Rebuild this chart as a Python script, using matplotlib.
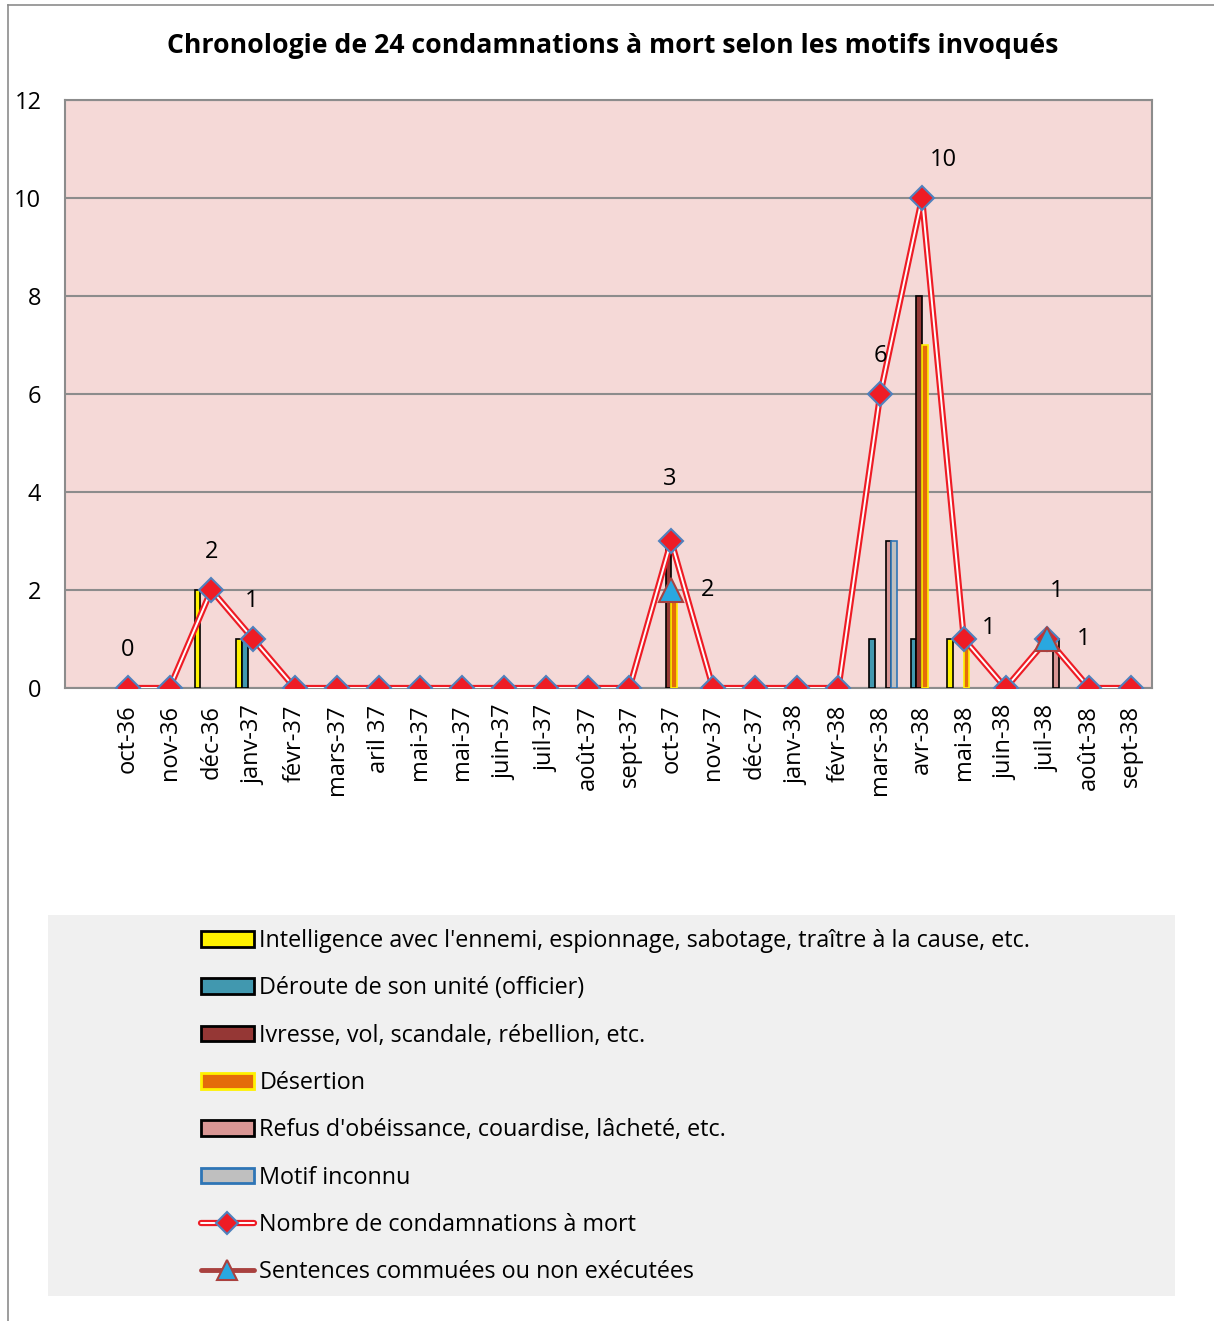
"""Chronologie des condamnations a mort"""

import numpy as np
import matplotlib.pyplot as plt
from matplotlib.patches import Rectangle, Patch
from matplotlib.lines import Line2D
from matplotlib.legend_handler import HandlerTuple

plt.rcParams['font.family'] = ['Open Sans', 'DejaVu Sans']

months = ['oct-36', 'nov-36', 'déc-36', 'janv-37', 'févr-37', 'mars-37', 'aril 37',
          'mai-37', 'mai-37', 'juin-37', 'juil-37', 'août-37', 'sept-37', 'oct-37',
          'nov-37', 'déc-37', 'janv-38', 'févr-38', 'mars-38', 'avr-38', 'mai-38',
          'juin-38', 'juil-38', 'août-38', 'sept-38']

intelligence = [0, 0, 2, 1, 0, 0, 0, 0, 0, 0, 0, 0, 0, 0, 0, 0, 0, 0, 0, 0, 1, 0, 0, 0, 0]
deroute      = [0, 0, 0, 1, 0, 0, 0, 0, 0, 0, 0, 0, 0, 0, 0, 0, 0, 0, 1, 1, 0, 0, 0, 0, 0]
ivresse      = [0, 0, 0, 0, 0, 0, 0, 0, 0, 0, 0, 0, 0, 3, 0, 0, 0, 0, 0, 8, 0, 0, 0, 0, 0]
desertion    = [0, 0, 0, 0, 0, 0, 0, 0, 0, 0, 0, 0, 0, 2, 0, 0, 0, 0, 0, 7, 1, 0, 0, 0, 0]
refus        = [0, 0, 0, 0, 0, 0, 0, 0, 0, 0, 0, 0, 0, 0, 0, 0, 0, 0, 3, 0, 0, 0, 1, 0, 0]
inconnu      = [0, 0, 0, 0, 0, 0, 0, 0, 0, 0, 0, 0, 0, 0, 0, 0, 0, 0, 3, 0, 0, 0, 0, 0, 0]

total = [0, 0, 2, 1, 0, 0, 0, 0, 0, 0, 0, 0, 0, 3, 0, 0, 0, 0, 6, 10, 1, 0, 1, 0, 0]
nan = np.nan
commuees = [nan] * 13 + [2] + [nan] * 8 + [1] + [nan] * 2

# which points of the total line carry a value label
total_labels = [0, 2, 3, 13, 18, 19, 20, 22]
commuee_labels = [13, 22]

series = [
    ("Intelligence avec l'ennemi, espionnage, sabotage, traître à la cause, etc.",
     intelligence, '#FFF200', 'black'),
    ('Déroute de son unité (officier)', deroute, '#4198AF', 'black'),
    ('Ivresse, vol, scandale, rébellion, etc.', ivresse, '#953735', 'black'),
    ('Désertion', desertion, '#E46C0A', '#FFF200'),
    ("Refus d'obéissance, couardise, lâcheté, etc.", refus, '#D99694', 'black'),
    ('Motif inconnu', inconnu, '#BFBFBF', '#2E75B6'),
]

fig = plt.figure(figsize=(12.14, 13.21), dpi=100)
ax = fig.add_axes([65 / 1214, 1 - 688 / 1321, (1152 - 65) / 1214, (688 - 100) / 1321])
ax.set_facecolor('#F5D9D7')

x = np.arange(len(months))
w = 0.134
handles = []
for i, (name, vals, color, edge) in enumerate(series):
    v = np.array(vals, dtype=float)
    mask = v > 0
    ax.bar(x[mask] + (i - 2.5) * w, v[mask], width=w, color=color,
           edgecolor=edge, linewidth=1.2, zorder=3)
    handles.append(Patch(facecolor=color, edgecolor=edge, linewidth=2))

# total line: red double line with diamonds
ax.plot(x, total, color='#EE1C25', linewidth=4.5, zorder=4)
ax.plot(x, total, color='white', linewidth=1.4, zorder=5)
ax.plot(x, total, linestyle='none', marker='D', markersize=12,
        markerfacecolor='#EE1C25', markeredgecolor='#4F81BD',
        markeredgewidth=1.5, zorder=6)

# commuted sentences
ax.plot(x, commuees, color='#A9413F', linewidth=3, marker='^', markersize=17,
        markerfacecolor='#29A8E0', markeredgecolor='#A9413F',
        markeredgewidth=1.5, zorder=7)

offsets = {0: (0, 38), 2: (0, 38), 3: (-2, 38), 13: (-2, 62), 18: (0, 38),
           19: (21, 38), 20: (25, 11), 22: (9, 48)}
for i in total_labels:
    ax.annotate(str(total[i]), (x[i], total[i]), xytext=offsets[i],
                textcoords='offset pixels', ha='center', va='center',
                fontsize=17, zorder=8)
for i in commuee_labels:
    ax.annotate(str(int(commuees[i])), (x[i], commuees[i]), xytext=(36, 0),
                textcoords='offset pixels', ha='center', va='center',
                fontsize=17, zorder=8)

ax.set_xlim(-1.5, 24.5)
ax.set_ylim(0, 12)
ax.set_yticks(range(0, 13, 2))
ax.set_xticks(x)
ax.set_xticklabels(months, rotation=90, fontsize=17)
ax.tick_params(axis='y', labelsize=17, length=0, pad=17)
ax.tick_params(axis='x', length=0, pad=12)
ax.grid(axis='y', color='#8C8C8C', linewidth=1.5, zorder=1)
ax.set_axisbelow(True)
for s in ax.spines.values():
    s.set_color('#8C8C8C')
    s.set_linewidth(1.5)

fig.text(613 / 1214, 1 - 46 / 1321,
         'Chronologie de 24 condamnations à mort selon les motifs invoqués',
         ha='center', va='center', fontsize=19.2, fontweight='bold')

# outer frame
fig.add_artist(Line2D([8 / 1214, 8 / 1214], [0, 1 - 5 / 1321], color='#8C8C8C', linewidth=1.2))
fig.add_artist(Line2D([8 / 1214, 1], [1 - 5 / 1321, 1 - 5 / 1321], color='#8C8C8C', linewidth=1.2))

# legend background
fig.add_artist(Rectangle((48 / 1214, 1 - 1296 / 1321), (1175 - 48) / 1214, (1296 - 915) / 1321,
                         transform=fig.transFigure, facecolor='#F0F0F0', edgecolor='none', zorder=0))

red_h = (Line2D([], [], color='#EE1C25', linewidth=4.5, solid_capstyle='round'),
         Line2D([], [], color='white', linewidth=1.4, solid_capstyle='round'),
         Line2D([], [], linestyle='none', marker='D', markersize=11,
                markerfacecolor='#EE1C25', markeredgecolor='#4F81BD', markeredgewidth=1.5))
tri_h = Line2D([], [], color='#A9413F', linewidth=3.5, marker='^', markersize=14,
               markerfacecolor='#29A8E0', markeredgecolor='#A9413F', markeredgewidth=1.5,
               solid_capstyle='round')
handles += [red_h, tri_h]
labels = [s[0] for s in series] + ['Nombre de condamnations à mort',
                                   'Sentences commuées ou non exécutées']
fig.legend(handles, labels, loc='upper left', bbox_to_anchor=(180 / 1214, 1 - 908 / 1321),
           frameon=False, fontsize=16.8, labelspacing=1.0, handlelength=2.25,
           handleheight=0.65, handletextpad=0.25,
           handler_map={tuple: HandlerTuple(ndivide=1, pad=0)})

fig.savefig('out.png', dpi=100)
